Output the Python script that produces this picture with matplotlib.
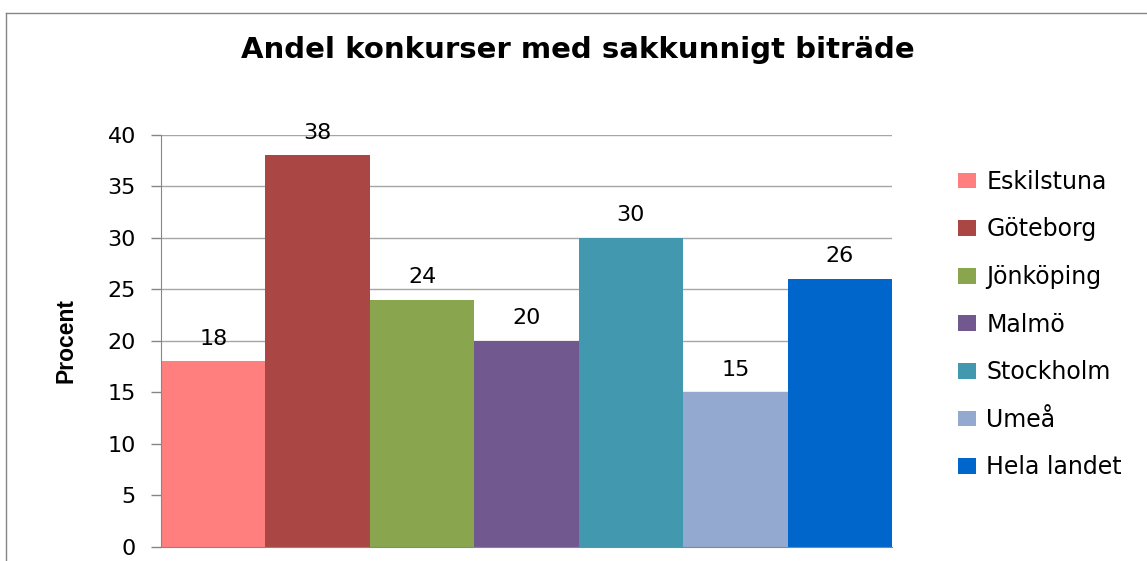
import matplotlib.pyplot as plt
from matplotlib.lines import Line2D
from matplotlib.patches import Patch

# ────────────────────────────────────────
#   Data
# ────────────────────────────────────────
orter = ["Eskilstuna", "Göteborg", "Jönköping", "Malmö", "Stockholm", "Umeå", "Hela landet"]
andel = [18, 38, 24, 20, 30, 15, 26]
farger = ["#FF7F7F", "#AA4643", "#89A54E", "#71588F", "#4198AF", "#93A9CF", "#0066CC"]
yticks = [0, 5, 10, 15, 20, 25, 30, 35, 40]

plt.rcParams['font.family'] = ['DejaVu Sans']

W, H = 1147, 561
fig = plt.figure(figsize=(W / 100, H / 100), dpi=100, facecolor="white")
ax = fig.add_axes([161 / W, 1 - 546.7 / H, (892 - 161) / W, (546.7 - 134.7) / H])

pos = list(range(len(orter)))
ax.bar(pos, andel, width=1.0, color=farger, edgecolor="none", zorder=2)

# value labels above the bars
for x, v in zip(pos, andel):
    ax.annotate(f"{v}", (x, v), xytext=(0, 9), textcoords="offset points",
                ha="center", va="bottom", fontsize=16, color="black")

ax.set_xlim(-0.5, len(orter) - 0.5)
ax.set_ylim(0, 40)
ax.set_yticks(yticks)
ax.set_xticks([])
ax.tick_params(axis="y", length=7, width=1, color="#868686", labelsize=16, pad=11)
ax.grid(axis="y", color="#a6a6a6", linewidth=1, zorder=0)
for s in ["top", "right"]:
    ax.spines[s].set_visible(False)
for s in ["left", "bottom"]:
    ax.spines[s].set_color("#868686")

ax.set_ylabel("Procent", fontsize=16.5, fontweight="bold", labelpad=22,
              family=["Liberation Sans", "DejaVu Sans"])

fig.text(578 / W, 1 - 50 / H, "Andel konkurser med sakkunnigt biträde",
         ha="center", va="center", fontsize=21, fontweight="bold")

handles = [Patch(facecolor=c, edgecolor="none") for c in farger]
fig.legend(handles, orter, loc="upper left", bbox_to_anchor=(946 / W, 1 - 158 / H),
           frameon=False, fontsize=17, handlelength=0.75, handleheight=0.65,
           handletextpad=0.45, labelspacing=1.0, borderpad=0)

# outer chart frame (left and top edges visible)
fig.add_artist(Line2D([6 / W, 6 / W], [0, 1 - 13 / H], transform=fig.transFigure,
                      color="#868686", linewidth=1))
fig.add_artist(Line2D([6 / W, 1], [1 - 13 / H, 1 - 13 / H], transform=fig.transFigure,
                      color="#868686", linewidth=1))

fig.savefig("out.png", dpi=100, facecolor="white")
